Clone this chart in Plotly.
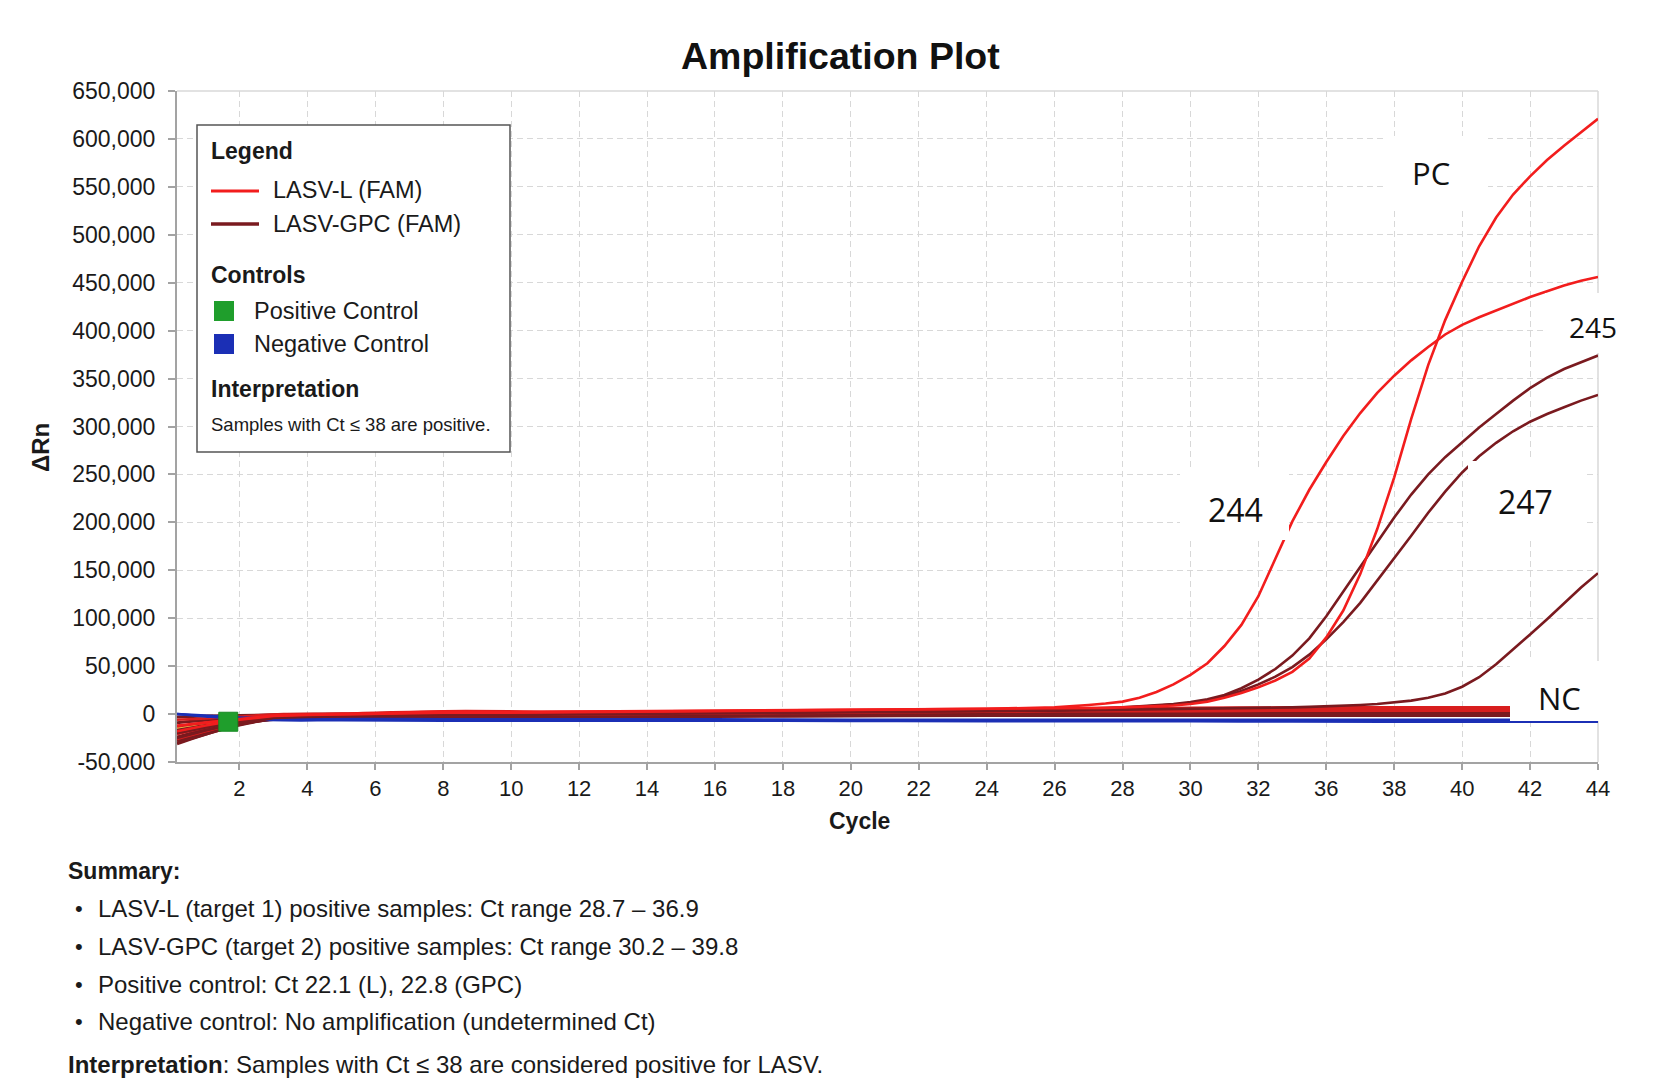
import plotly.graph_objects as go

# ---------------- data ----------------
X_TICK_POS = [2, 4, 6, 8, 10, 12, 14, 16, 18, 20, 22, 24, 26, 28, 30, 32, 34, 36, 38, 40, 42]
X_TICK_LABELS = ["2", "4", "6", "8", "10", "12", "14", "16", "18", "20", "22", "24",
                 "26", "28", "30", "32", "36", "38", "40", "42", "44"]
Y_TICK_VALS = [-50000, 0, 50000, 100000, 150000, 200000, 250000, 300000, 350000,
               400000, 450000, 500000, 550000, 600000, 650000]
Y_TICK_LABELS = ["-50,000", "0", "50,000", "100,000", "150,000", "200,000", "250,000",
                 "300,000", "350,000", "400,000", "450,000", "500,000", "550,000",
                 "600,000", "650,000"]

# amplifying curves (x = plot position of cycle)
CURVE_X = [0.16, 1, 2, 3, 4, 6, 8, 10, 12, 14, 16, 18, 20, 22, 24,
           26, 26.5, 27, 27.5, 28, 28.5, 29, 29.5, 30, 30.5, 31, 31.5, 32, 32.5, 33, 33.5,
           34, 34.5, 35, 35.5, 36, 36.5, 37, 37.5, 38, 38.5, 39, 39.5, 40, 40.5, 41, 41.5, 42]
S244_L = [-12000, -9000, -5000, -1500, -500, 500, 2500, 2000, 2500, 3000, 3500, 4000, 4500, 5000, 5500,
          7000, 8000, 9500, 11000, 13000, 17000, 23000, 31000, 41000, 53000, 71000, 93000,
          123000, 162000, 201000, 234000, 263000, 290000, 314000, 335000, 353000, 369000,
          383000, 396000, 406000, 414000, 421000, 428000, 435000, 441000, 447000, 452000, 456000]
PC_L = [-18000, -12000, -6000, -2000, -1000, 0, 1500, 1500, 2000, 2500, 3000, 3500, 4000, 4500, 5000,
        5500, 5800, 6000, 6500, 7000, 7500, 8000, 9000, 10500, 13000, 17000, 22000, 28000,
        35000, 44000, 58000, 80000, 108000, 146000, 193000, 247000, 308000, 364000, 411000,
        451000, 488000, 518000, 542000, 561000, 578000, 593000, 607000, 621000]
S245_GPC = [-25000, -17000, -9000, -3000, -2000, -1000, 0, 0, 500, 1000, 1500, 2000, 2500, 3000, 3500,
            4500, 5000, 5500, 6000, 7000, 8000, 9000, 10500, 12500, 15500, 20000, 27000, 36000,
            47000, 61000, 79000, 102000, 128000, 154000, 180000, 205000, 229000, 250000, 268000,
            284000, 299000, 313000, 327000, 340000, 351000, 360000, 367000, 374000]
S247_GPC = [-30000, -21000, -11000, -4000, -3000, -2000, -1500, -1000, -500, 0, 500, 1000, 1500, 2000, 3000,
            4000, 4500, 5000, 5500, 6500, 7500, 8500, 10000, 11500, 14000, 18500, 24000, 31000,
            39000, 49000, 62000, 78000, 96000, 116000, 139000, 162000, 186000, 210000, 232000,
            252000, 269000, 283000, 295000, 305000, 313000, 320000, 327000, 333000]
LATE_GPC = [-20000, -14000, -7000, -2500, -1500, -500, 0, 500, 1000, 1500, 2000, 2500, 3000, 3000, 3500,
            3500, 3700, 4000, 4200, 4500, 4700, 5000, 5200, 5500, 5700, 6000, 6200, 6500, 6700,
            7000, 7500, 8000, 8500, 9500, 10500, 12000, 14000, 17000, 21500, 28500, 38500,
            52000, 67000, 83000, 99000, 116000, 132000, 147000]

# non-amplifying samples and controls
FLAT_X = [0.16, 1, 2, 3.3, 5, 8, 12, 16, 20, 24, 27, 30, 33, 36, 39, 42]
FLAT_ORANGE = [-19000, -13000, -7500, -2500, -1500, -500, 0, 500, 1000, 2000, 2500, 2500, 2500, 2500, 2500, 2500]
FLAT_GOLD = [-15000, -10500, -6000, -2000, -1000, 0, 500, 1000, 1500, 2500, 3000, 3000, 3000, 3000, 3000, 3000]
FLAT_G1 = [-31000, -21000, -11500, -3500, -3000, -2000, -1500, -1000, 0, 1000, 1500, 2000, 2000, 2000, 2000, 2000]
FLAT_G2 = [-17000, -12000, -8000, -3500, -3000, -2000, -1500, -1000, -500, 500, 1000, 1000, 1000, 1000, 1000, 1000]
FLAT_G3 = [-24000, -16000, -10000, -4500, -4000, -3000, -2500, -2000, -1500, -1000, -500, 0, 0, 0, 0, 0]
FLAT_G4 = [-9000, -6500, -4500, -2500, -2000, -1000, 0, 500, 1500, 2500, 3500, 4000, 4500, 4500, 4500, 4500]
FLAT_G5 = [-28000, -19000, -10500, -4000, -3500, -3000, -3000, -2500, -2000, -1500, -1500, -1500, -1500, -1500, -1500, -1500]
FLAT_G6 = [-3000, -2000, -1500, -500, 0, 500, 1000, 1500, 2500, 3500, 4500, 5500, 6000, 6000, 6000, 6000]
FLAT_L1 = [-6000, -4500, -2500, 0, 500, 3000, 2500, 3000, 3500, 4500, 5500, 6500, 7000, 7000, 7000, 7000]
FLAT_L2 = [-21000, -14000, -7000, -1500, -500, 1500, 1500, 2000, 3000, 4000, 5000, 5500, 5500, 5500, 5500, 5500]
FLAT_L3 = [-13000, -9000, -5000, -2000, -1500, 0, 500, 1000, 2000, 3000, 3500, 4000, 4500, 4500, 4500, 4500]
FLAT_L4 = [-26000, -18000, -9500, -2500, -2000, -1000, -500, 500, 1500, 2500, 3000, 3000, 3500, 3500, 3500, 3500]
NC_1 = [0, -1500, -3500, -5000, -5000, -5500, -5500, -5500, -6000, -6000, -6000, -6000, -6000, -6000, -6000, -6000]
NC_2 = [0, -2500, -5000, -6500, -6500, -7000, -7000, -7000, -7200, -7400, -7500, -7600, -7800, -7900, -8000, -8000]

PC_MARK_X = [1.67]
PC_MARK_Y = [-8000]

# ---------------- style ----------------
RED = "#f21d1d"
DARK = "#7a1a1f"
GREEN = "#1f9e2c"
BLUE = "#1b2fb5"
FONT = "Liberation Sans, Arial, sans-serif"
W, H = 1662, 1092
ML, MR, MT, MB = 177, 64, 91, 330
PW, PH = W - ML - MR, H - MT - MB


def xp(px):
    return (px - ML) / PW


def yp(py):
    return (H - MB - py) / PH


fig = go.Figure()


def add_line(x, y, color, width, shape="spline"):
    line = dict(color=color, width=width, shape=shape)
    if shape == "spline":
        line["smoothing"] = 1.0
    fig.add_trace(go.Scatter(x=x, y=y, mode="lines", showlegend=False, hoverinfo="skip",
                             line=line))


for ys, c in [(FLAT_ORANGE, "#f0901e"), (FLAT_GOLD, "#f2c94a")]:
    add_line(FLAT_X, ys, c, 2.5)
for ys in [FLAT_G1, FLAT_G2, FLAT_G3, FLAT_G4, FLAT_G5, FLAT_G6]:
    add_line(FLAT_X, ys, DARK, 3)
for ys in [FLAT_L1, FLAT_L2, FLAT_L3, FLAT_L4]:
    add_line(FLAT_X, ys, "#d81e1e", 2.5)
for ys in [NC_1, NC_2]:
    add_line(FLAT_X, ys, BLUE, 2.5)
for ys in [LATE_GPC, S247_GPC, S245_GPC]:
    add_line(CURVE_X, ys, DARK, 2.6, shape="linear")
add_line(CURVE_X, S244_L, RED, 2.6, shape="linear")
add_line(CURVE_X, PC_L, RED, 2.6, shape="linear")

fig.add_trace(go.Scatter(x=PC_MARK_X, y=PC_MARK_Y, mode="markers", showlegend=False,
                         hoverinfo="skip",
                         marker=dict(symbol="square", size=19, color=GREEN,
                                     line=dict(color="#178a22", width=1))))

shapes = []
annotations = []

# plot frame (top/right light)
shapes.append(dict(type="line", xref="paper", yref="paper", x0=0, x1=1, y0=1, y1=1,
                   line=dict(color="#d9d9d9", width=1.5), layer="below"))
shapes.append(dict(type="line", xref="paper", yref="paper", x0=1, x1=1, y0=0, y1=1,
                   line=dict(color="#d9d9d9", width=1.5), layer="below"))

# white label patches with sample labels
LABELS = [
    ("PC", (1385, 136, 1488, 210), (1431, 173), 31),
    ("245", (1545, 293, 1662, 353), (1593, 327), 28),
    ("244", (1180, 470, 1289, 540), (1235, 509), 32),
    ("247", (1468, 461, 1587, 540), (1525, 501), 32),
    ("NC", (1510, 661, 1612, 721), (1559, 698), 31),
]
for txt_, (x0, y0, x1, y1), (tx, ty), fs in LABELS:
    shapes.append(dict(type="rect", xref="paper", yref="paper", x0=xp(x0), x1=xp(x1),
                       y0=yp(y1), y1=yp(y0), fillcolor="white", line=dict(width=0),
                       layer="above"))
    annotations.append(dict(text=txt_, xref="paper", yref="paper", x=xp(tx), y=yp(ty),
                            xanchor="center", yanchor="middle", showarrow=False,
                            font=dict(family="Open Sans, sans-serif", size=fs, color="#111")))

# legend box
shapes.append(dict(type="rect", xref="paper", yref="paper", x0=xp(197), x1=xp(510),
                   y0=yp(452), y1=yp(125), fillcolor="white",
                   line=dict(color="#555555", width=1.5), layer="above"))
shapes.append(dict(type="line", xref="paper", yref="paper", x0=xp(211), x1=xp(259),
                   y0=yp(191), y1=yp(191), line=dict(color=RED, width=3), layer="above"))
shapes.append(dict(type="line", xref="paper", yref="paper", x0=xp(211), x1=xp(259),
                   y0=yp(224), y1=yp(224), line=dict(color=DARK, width=3.5), layer="above"))
shapes.append(dict(type="rect", xref="paper", yref="paper", x0=xp(214), x1=xp(234),
                   y0=yp(321), y1=yp(301), fillcolor=GREEN, line=dict(width=0), layer="above"))
shapes.append(dict(type="rect", xref="paper", yref="paper", x0=xp(214), x1=xp(234),
                   y0=yp(354), y1=yp(334), fillcolor=BLUE, line=dict(width=0), layer="above"))


def txt(text, x, y, size, anchor="left", color="#1a1a1a", angle=0, family=FONT):
    annotations.append(dict(text=text, xref="paper", yref="paper", x=xp(x), y=yp(y),
                            xanchor=anchor, yanchor="middle", showarrow=False,
                            textangle=angle, font=dict(family=family, size=size, color=color)))


txt("<b>Legend</b>", 209, 151, 23)
txt("LASV-L (FAM)", 271, 190, 23.5)
txt("LASV-GPC (FAM)", 271, 224, 23.5)
txt("<b>Controls</b>", 209, 275, 23)
txt("Positive Control", 252, 311, 23.5)
txt("Negative Control", 252, 344, 23.5)
txt("<b>Interpretation</b>", 209, 389, 23)
txt("Samples with Ct \u2264 38 are positive.", 209, 424, 18.5)

# titles
txt("<b>Amplification Plot</b>", 840, 56, 37.5, anchor="center", color="#111")
txt("<b>Cycle</b>", 859, 821, 23, anchor="center", color="#1a1a1a")
txt("<b>\u0394Rn</b>", 40, 448, 24, anchor="center", color="#1a1a1a", angle=-90)

# summary
txt("<b>Summary:</b>", 66, 871, 23)
SUMMARY = [
    "LASV-L (target 1) positive samples: Ct range 28.7 \u2013 36.9",
    "LASV-GPC (target 2) positive samples: Ct range 30.2 \u2013 39.8",
    "Positive control: Ct 22.1 (L), 22.8 (GPC)",
    "Negative control: No amplification (undetermined Ct)",
]
for line, yy in zip(SUMMARY, [908, 946, 984, 1021]):
    txt("\u2022", 79, yy, 22, anchor="center")
    txt(line, 96, yy, 24)
txt("<b>Interpretation</b>: Samples with Ct \u2264 38 are considered positive for LASV.", 66, 1064, 24)

fig.update_layout(
    width=W, height=H,
    margin=dict(l=ML, r=MR, t=MT, b=MB, pad=0),
    paper_bgcolor="white", plot_bgcolor="white",
    showlegend=False,
    shapes=shapes, annotations=annotations,
    font=dict(family=FONT, color="#1a1a1a"),
    xaxis=dict(range=[0.16, 42], tickvals=X_TICK_POS, ticktext=X_TICK_LABELS,
               showgrid=True, gridcolor="#d8d8d8", gridwidth=1, griddash="6px,4px",
               showline=True, linecolor="#a3a3a3", linewidth=2,
               ticks="outside", ticklen=6, tickcolor="#a3a3a3", tickwidth=1.5,
               tickfont=dict(size=22, color="#1a1a1a"), ticklabelstandoff=0,
               zeroline=False, fixedrange=True),
    yaxis=dict(range=[-50000, 650000], tickvals=Y_TICK_VALS, ticktext=Y_TICK_LABELS,
               showgrid=True, gridcolor="#d8d8d8", gridwidth=1, griddash="6px,4px",
               showline=True, linecolor="#a3a3a3", linewidth=2,
               ticks="outside", ticklen=7, tickcolor="#a3a3a3", tickwidth=1.5,
               tickfont=dict(size=23, color="#1a1a1a"), ticklabelstandoff=8,
               zeroline=False, fixedrange=True),
)

fig.write_html("out.html")
